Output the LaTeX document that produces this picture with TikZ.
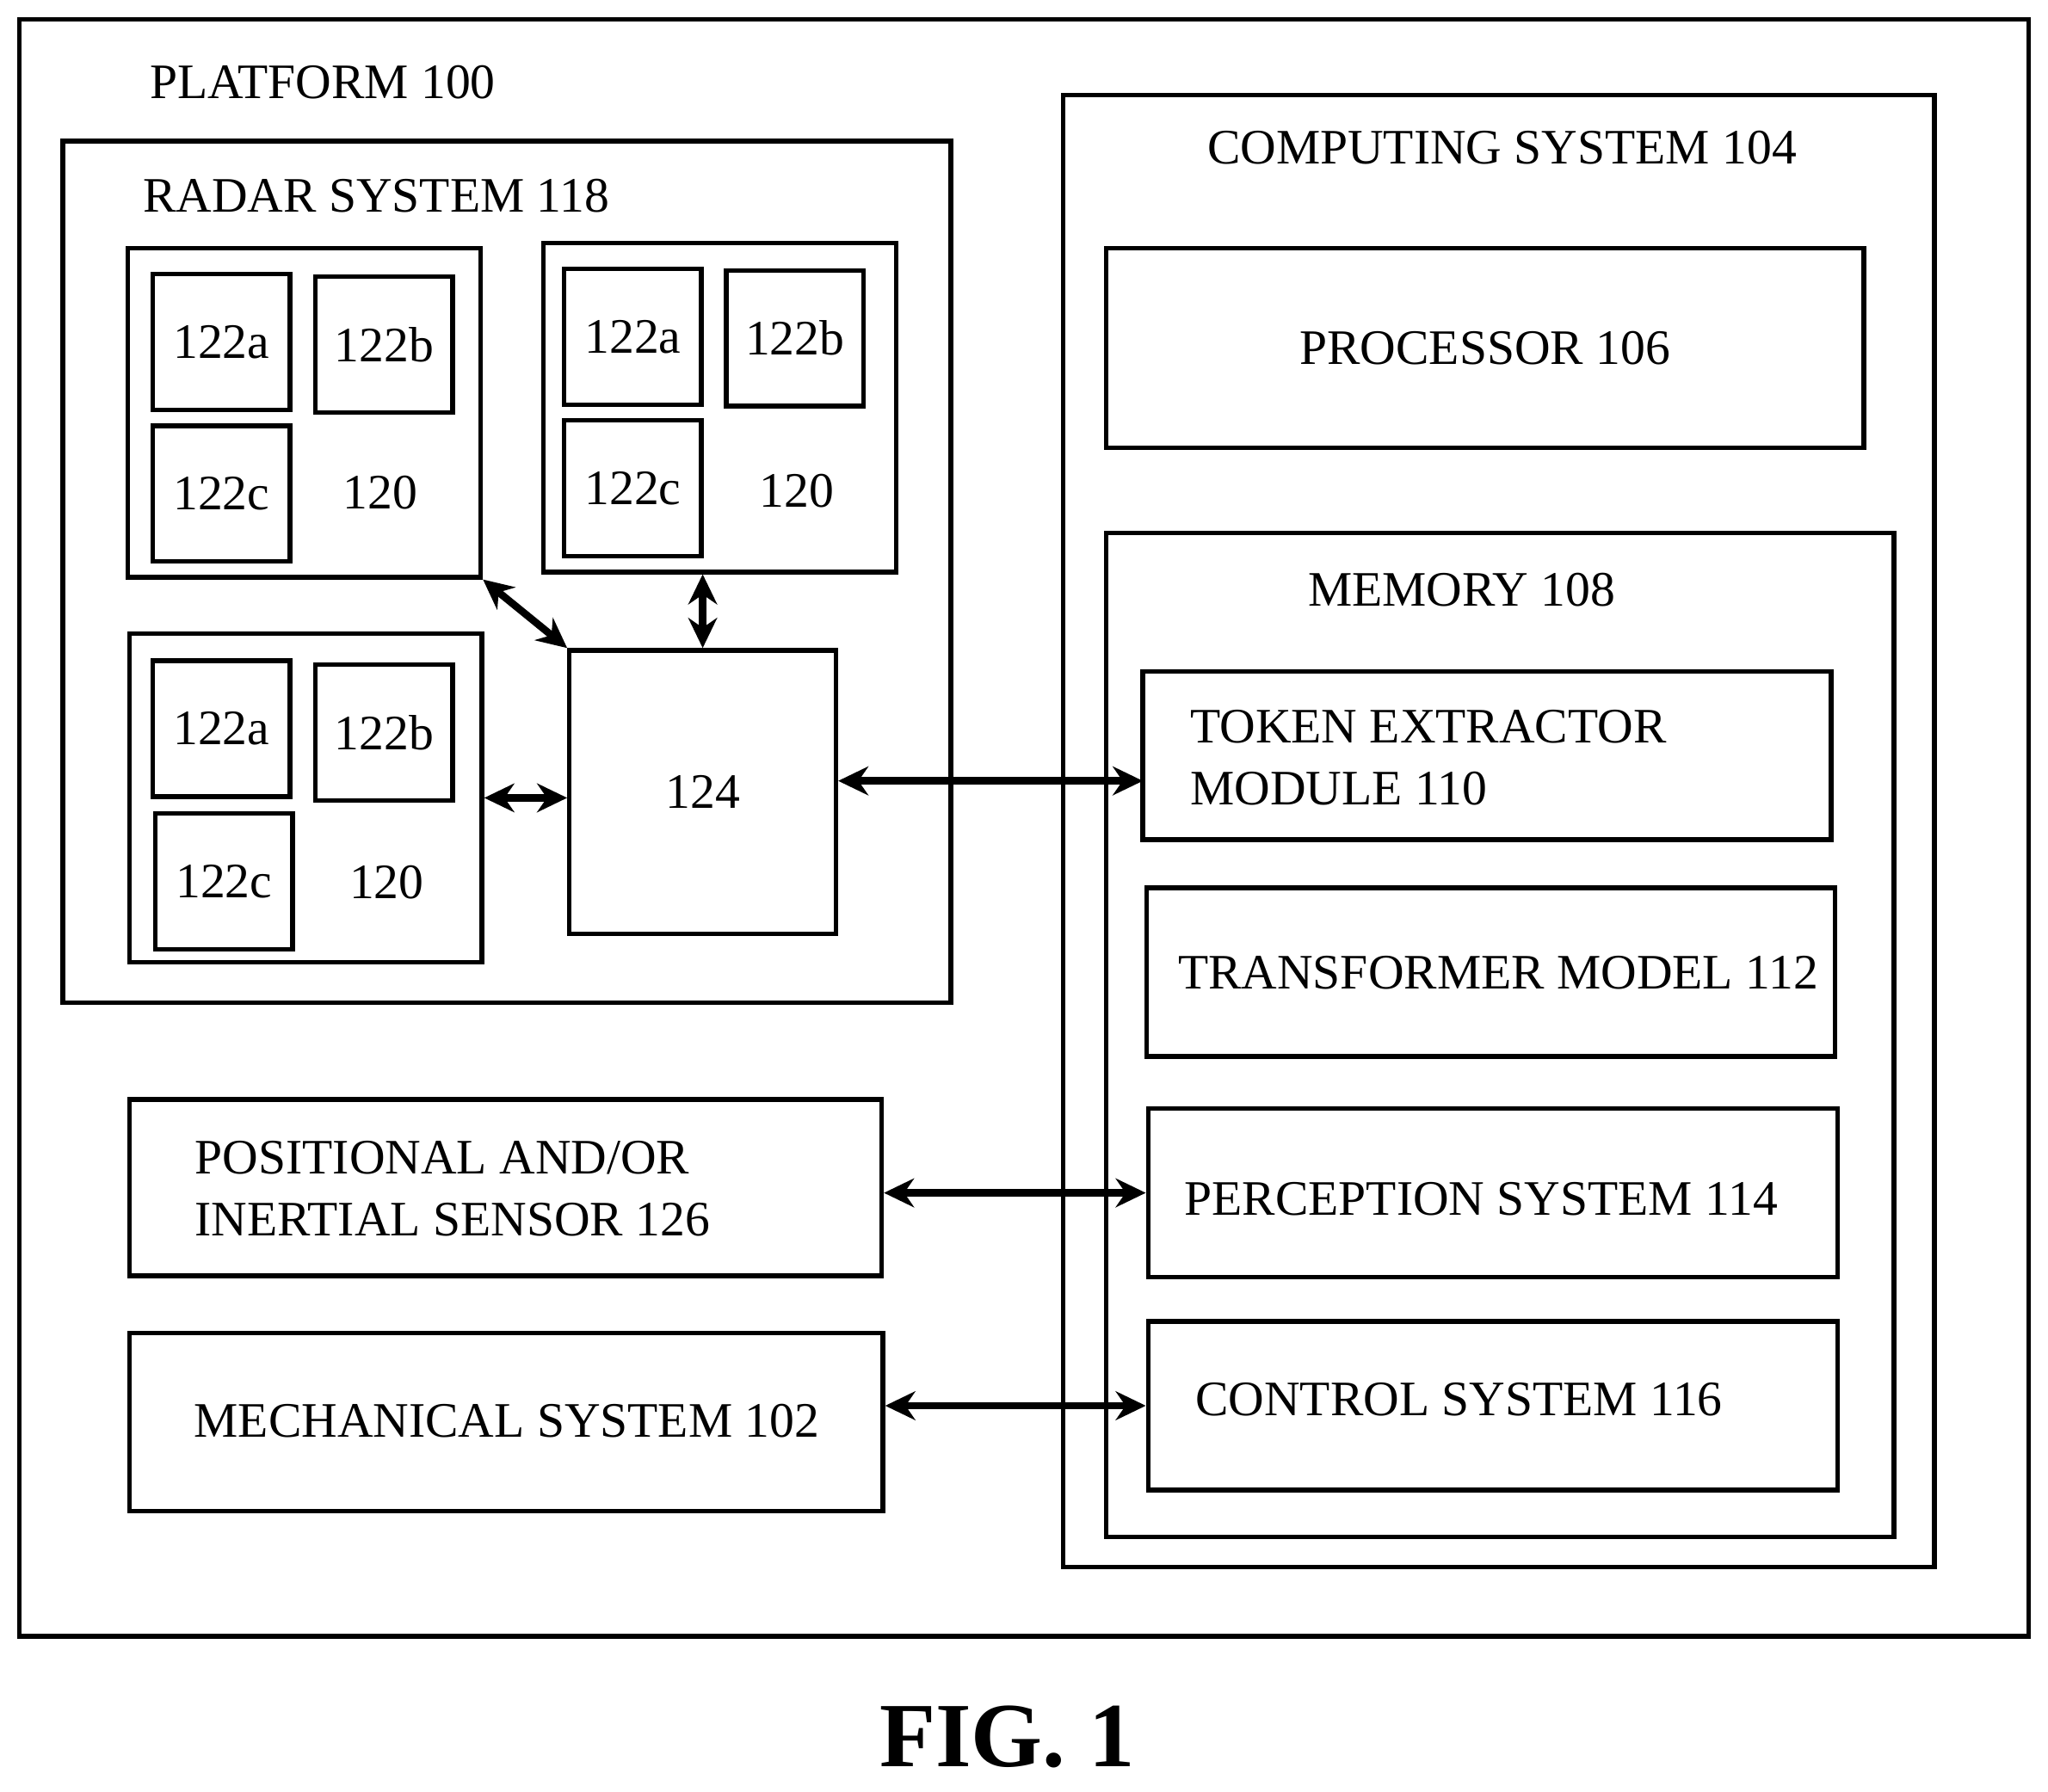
\documentclass[tikz,border=0pt]{standalone}
\usepackage{fontspec}
\setmainfont{Liberation Serif}
\usetikzlibrary{arrows.meta}
\begin{document}
\begin{tikzpicture}[x=0.1mm,y=-0.1mm,
    box/.style={draw,line width=1pt,inner sep=0pt},
    cell/.style={box,minimum width=10.5mm,minimum height=10.4mm},
    unit/.style={box,minimum width=27mm,minimum height=25.2mm},
    link/.style={line width=1.6pt,{Stealth[length=2.3mm,width=2.2mm]}-{Stealth[length=2.3mm,width=2.2mm]}},
    every node/.style={font=\fontsize{10.8}{13.5}\selectfont}]
    \useasboundingbox (0,0) rectangle (1568,1372);
    % outer frames
    \node[box,minimum width=153.8mm,minimum height=123.8mm] (platform) at (784,634) {};
    \node at (247,63) {PLATFORM 100};
    \node[box,minimum width=68mm,minimum height=66mm] (radar) at (388,438) {};
    \node at (288,150) {RADAR SYSTEM 118};
    % radar units
    \node[unit] (m1) at (233,316) {};
    \node[cell] (a1) at (169.5,262) {122a};
    \node[cell] (b1) at (294,264) {122b};
    \node[cell] (c1) at (169.5,378) {122c};
    \node at (291,377) {120};
    \node[unit] (m2) at (551,312) {};
    \node[cell] (a2) at (484.5,258) {122a};
    \node[cell] (b2) at (608.5,259) {122b};
    \node[cell] (c2) at (484.5,374) {122c};
    \node at (610,376) {120};
    \node[unit] (m3) at (234,611) {};
    \node[cell] (a3) at (169.5,558) {122a};
    \node[cell] (b3) at (294,561) {122b};
    \node[cell] (c3) at (171.5,675) {122c};
    \node at (296,676) {120};
    \node[box,minimum width=20.4mm,minimum height=21.7mm] (hub) at (538,606.5) {124};
    % computing system
    \node[box,minimum width=66.7mm,minimum height=112.7mm] (comp) at (1147.5,636.5) {};
    \node at (1150,113) {COMPUTING SYSTEM 104};
    \node[box,minimum width=58mm,minimum height=15.3mm] (proc) at (1137,266.5) {PROCESSOR 106};
    \node[box,minimum width=60.3mm,minimum height=76.9mm] (mem) at (1148.5,792.5) {};
    \node at (1119,452) {MEMORY 108};
    \node[box,minimum width=52.7mm,minimum height=12.9mm] (token) at (1138.5,578.5) {};
    \node[anchor=west,align=left] at (899,580) {TOKEN EXTRACTOR\\MODULE 110};
    \coordinate (tokenin) at (875,598);
    \node[box,minimum width=52.7mm,minimum height=12.9mm] (trans) at (1141.5,744.5) {};
    \node at (1147,745) {TRANSFORMER MODEL 112};
    \node[box,minimum width=52.8mm,minimum height=12.9mm] (perc) at (1143,913.5) {};
    \node at (1134,918) {PERCEPTION SYSTEM 114};
    \node[box,minimum width=52.8mm,minimum height=12.9mm] (ctrl) at (1143,1076.5) {};
    \node at (1117,1072) {CONTROL SYSTEM 116};
    % sensors
    \node[box,minimum width=57.6mm,minimum height=13.5mm] (pos) at (387,909.5) {};
    \node[anchor=west,align=left] at (137,910) {POSITIONAL AND/OR\\INERTIAL SENSOR 126};
    \node[box,minimum width=57.7mm,minimum height=13.6mm] (mech) at (387.5,1089) {};
    \node at (388,1088) {MECHANICAL SYSTEM 102};
    % links
    \draw[link] (m1.south east) -- (hub.north west);
    \draw[link] (m2.south -| hub.north) -- (hub.north);
    \draw[link] (m3.east) -- (m3.east -| hub.west);
    \draw[link] (hub.east |- tokenin) -- (tokenin);
    \draw[link] (pos.east |- perc.west) -- (perc.west);
    \draw[link] (mech.east |- ctrl.west) -- (ctrl.west);
    \node[font=\bfseries\fontsize{20}{24}\selectfont] (fig) at (771,1330) {FIG. 1};
\end{tikzpicture}
\end{document}
